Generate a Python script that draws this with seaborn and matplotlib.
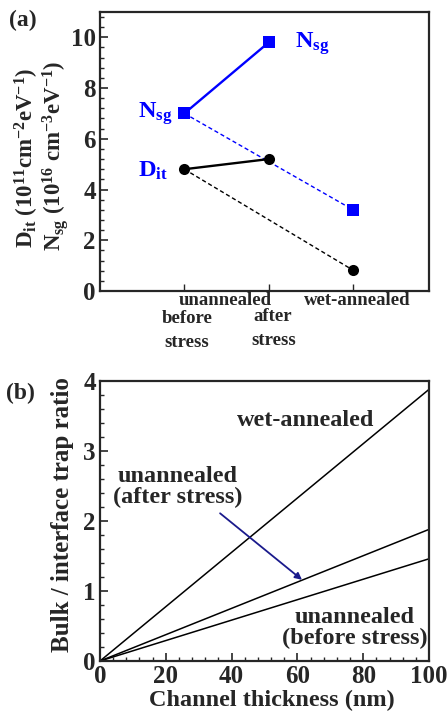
import matplotlib
matplotlib.use("Agg")
import matplotlib.pyplot as plt
import matplotlib.transforms as mtransforms
from matplotlib.ticker import MultipleLocator
import pandas as pd
import seaborn as sns

# ---- data -------------------------------------------------------------
stages = ["before stress", "after stress", "wet-annealed"]
stage_pos = [1, 2, 3]
nsg = [7.0, 9.8, 3.2]       # 1e16 cm^-3 eV^-1
dit = [4.8, 5.2, 0.82]      # 1e11 cm^-2 eV^-1

thickness = [0, 100]        # nm
ratio_labels = ["unannealed (before stress)", "unannealed (after stress)", "wet-annealed"]
ratio_at_0 = [0.0, 0.0, 0.0]
ratio_at_100 = [1.46, 1.88, 3.88]

# ---- style ------------------------------------------------------------
sns.set_style("ticks")
plt.rcParams["font.family"] = ["Liberation Serif", "DejaVu Serif"]
plt.rcParams["font.weight"] = "bold"
plt.rcParams["mathtext.fontset"] = "custom"
plt.rcParams["mathtext.rm"] = "Liberation Serif:bold"
plt.rcParams["mathtext.bf"] = "Liberation Serif:bold"
plt.rcParams["mathtext.it"] = "Liberation Serif:bold"
plt.rcParams["mathtext.default"] = "bf"
plt.rcParams["axes.linewidth"] = 1.6

BLUE = "#0000ff"
NAVY = "#1a1a8c"

fig = plt.figure(figsize=(4.47, 7.16), dpi=100)
ax_a = fig.add_axes([0.2237, 0.5936, 0.736, 0.3897])
ax_b = fig.add_axes([0.2237, 0.0768, 0.736, 0.3911])

# ---- panel (a) --------------------------------------------------------
solid = pd.DataFrame({
    "x": stage_pos[:2] * 2,
    "y": nsg[:2] + dit[:2],
    "qty": ["Nsg"] * 2 + ["Dit"] * 2,
})
dashed = pd.DataFrame({
    "x": [stage_pos[0], stage_pos[2]] * 2,
    "y": [nsg[0], nsg[2], dit[0], dit[2]],
    "qty": ["Nsg"] * 2 + ["Dit"] * 2,
})
palette = {"Nsg": BLUE, "Dit": "black"}

sns.lineplot(data=dashed, x="x", y="y", hue="qty", palette=palette, ax=ax_a,
             linestyle=(0, (3, 2)), linewidth=1.0, legend=False, sort=False,
             estimator=None)
sns.lineplot(data=solid, x="x", y="y", hue="qty", palette=palette, ax=ax_a,
             linewidth=1.7, legend=False, sort=False, estimator=None)

pts_n = pd.DataFrame({"x": stage_pos, "y": nsg})
pts_d = pd.DataFrame({"x": stage_pos, "y": dit})
sns.scatterplot(data=pts_n, x="x", y="y", ax=ax_a, marker="s", s=80,
                color=BLUE, edgecolor=BLUE, linewidth=0, zorder=4)
sns.scatterplot(data=pts_d, x="x", y="y", ax=ax_a, marker="o", s=64,
                color="black", edgecolor="black", linewidth=0, zorder=5)

ax_a.set_xlim(0, 3.9)
ax_a.set_ylim(0, 11)
ax_a.yaxis.set_major_locator(MultipleLocator(2))
ax_a.yaxis.set_minor_locator(MultipleLocator(0.4))
ax_a.set_xticks(stage_pos)
ax_a.set_xticklabels([])
ax_a.tick_params(axis="both", which="both", direction="in", top=False, right=False)
ax_a.tick_params(axis="y", which="major", length=6, width=1.2, labelsize=18, pad=3)
ax_a.tick_params(axis="y", which="minor", length=3, width=1.0)
ax_a.tick_params(axis="x", which="major", length=5, width=1.0)
for lbl in ax_a.get_yticklabels():
    lbl.set_fontweight("bold")
ax_a.set_xlabel("")
ax_a.set_ylabel("")
for s in ax_a.spines.values():
    s.set_visible(True)
    s.set_linewidth(1.6)

ylab_kw = dict(fontsize=16.5, fontweight="bold", rotation=90, ha="center", va="center")
fig.text(0.060, 0.780, "D$_{it}$ (10$^{11}$cm$^{-2}$eV$^{-1}$)", **ylab_kw)
fig.text(0.124, 0.783, "N$_{sg}$ (10$^{16}$ cm$^{-3}$eV$^{-1}$)", **ylab_kw)

ax_a.text(2.31, 9.75, "N$_{sg}$", color=BLUE, fontsize=17.5, va="center", ha="left")
ax_a.text(0.45, 7.0, "N$_{sg}$", color=BLUE, fontsize=17.5, va="center", ha="left")
ax_a.text(0.45, 4.75, "D$_{it}$", color=BLUE, fontsize=17.5, va="center", ha="left")

trans = mtransforms.blended_transform_factory(ax_a.transData, ax_a.transAxes)
cat_kw = dict(transform=trans, fontsize=13.5, fontweight="bold", ha="center",
              va="center", clip_on=False)
ax_a.text(1.48, -0.035, "unannealed", **cat_kw)
ax_a.text(3.05, -0.035, stages[2], **cat_kw)
ax_a.text(1.03, -0.097, "before", **cat_kw)
ax_a.text(1.03, -0.183, "stress", **cat_kw)
ax_a.text(2.05, -0.090, "after", **cat_kw)
ax_a.text(2.06, -0.176, "stress", **cat_kw)

fig.text(0.050, 0.972, "(a)", fontsize=17, fontweight="bold", ha="center", va="center")

# ---- panel (b) --------------------------------------------------------
rows = []
for name, r0, r1 in zip(ratio_labels, ratio_at_0, ratio_at_100):
    rows.append({"t": thickness[0], "ratio": r0, "sample": name})
    rows.append({"t": thickness[1], "ratio": r1, "sample": name})
lines_b = pd.DataFrame(rows)
sns.lineplot(data=lines_b, x="t", y="ratio", hue="sample",
             palette={n: "black" for n in ratio_labels}, ax=ax_b,
             linewidth=1.1, legend=False, estimator=None, sort=False)

ax_b.set_xlim(0, 100)
ax_b.set_ylim(0, 4)
ax_b.xaxis.set_major_locator(MultipleLocator(20))
ax_b.xaxis.set_minor_locator(MultipleLocator(4))
ax_b.yaxis.set_major_locator(MultipleLocator(1))
ax_b.yaxis.set_minor_locator(MultipleLocator(0.2))
ax_b.tick_params(axis="both", which="both", direction="in", top=False, right=False)
ax_b.tick_params(axis="both", which="major", length=6, width=1.2, labelsize=18, pad=3)
ax_b.tick_params(axis="both", which="minor", length=3, width=1.0)
for lbl in ax_b.get_xticklabels() + ax_b.get_yticklabels():
    lbl.set_fontweight("bold")
ax_b.set_xlabel("")
ax_b.set_ylabel("")
for s in ax_b.spines.values():
    s.set_visible(True)
    s.set_linewidth(1.6)

fig.text(0.6085, 0.0223, "Channel thickness (nm)", fontsize=17.5, fontweight="bold",
         ha="center", va="center")
fig.text(0.139, 0.281, "Bulk / interface trap ratio", fontsize=18, fontweight="bold",
         rotation=90, ha="center", va="center")

txt_kw = dict(fontsize=17.5, fontweight="bold", ha="center", va="center", linespacing=1.0)
ax_b.text(62.5, 3.43, "wet-annealed", **txt_kw)
ax_b.text(23.5, 2.48, "unannealed\n(after stress)", **txt_kw)
ax_b.text(77.5, 0.47, "unannealed\n(before stress)", **txt_kw)
ax_b.annotate("", xy=(61.4, 1.16), xytext=(36.5, 2.11),
              arrowprops=dict(arrowstyle="-|>", color=NAVY, lw=1.3,
                              mutation_scale=10, shrinkA=0, shrinkB=0))

fig.text(0.045, 0.451, "(b)", fontsize=17, fontweight="bold", ha="center", va="center")

fig.savefig("out.png", dpi=100)
